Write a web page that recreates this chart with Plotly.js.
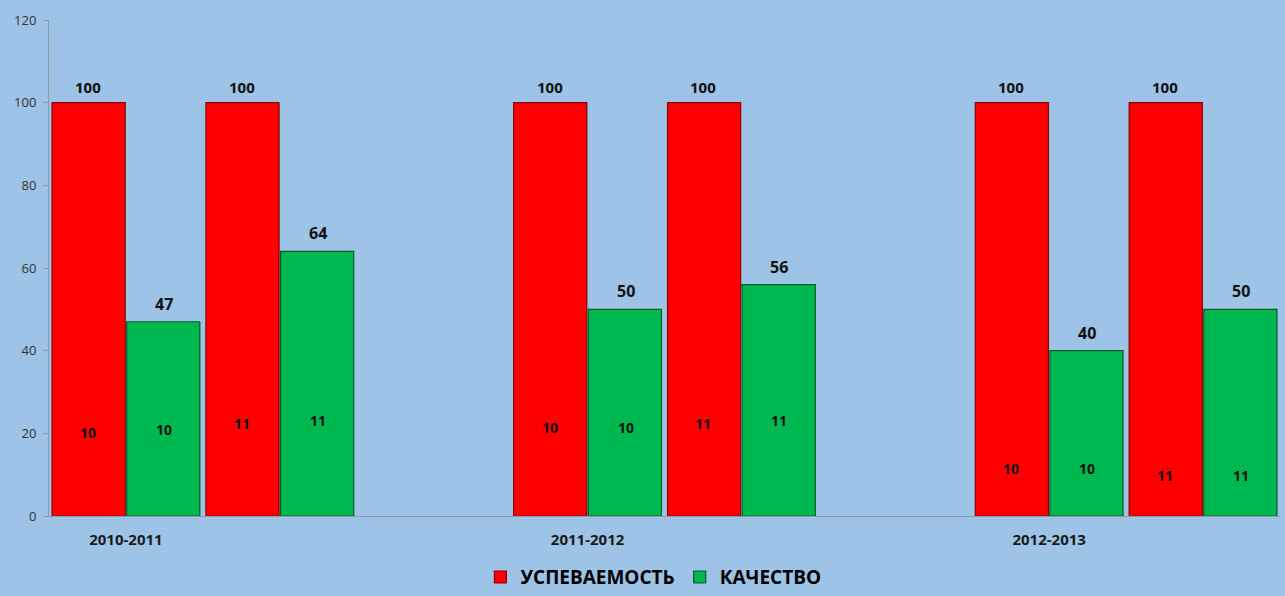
<!DOCTYPE html>
<html>
<head>
<meta charset="utf-8">
<script src="https://cdn.plot.ly/plotly-3.0.1.min.js"></script>
<style>html,body{margin:0;padding:0;background:#9DC3E6;}#chart{width:1285px;height:596px;}</style>
</head>
<body>
<div id="chart"></div>
<script>
// Category slots: class 10 and class 11 per school year, with empty slots between years
const categories = ["2010-2011 10","2010-2011 11","gap1","2011-2012 10","2011-2012 11","gap2","2012-2013 10","2012-2013 11"];
const yearTickVals = ["2010-2011 10","2011-2012 10","2012-2013 10"];
const yearTickText = ["2010-2011","2011-2012","2012-2013"];
const classNames = ["10","11",null,"10","11",null,"10","11"];
// Series values
const uspevaemost = [100,100,null,100,100,null,100,100];
const kachestvo   = [47,64,null,50,56,null,40,50];
// Heights (in axis units) at which the class labels sit inside the bars
const redClassLabelY   = [20.1,22.5,null,21.3,22.5,null,11.6,9.9];
const greenClassLabelY = [21.0,23.0,null,21.3,23.2,null,11.6,9.9];
const seriesNames = ["УСПЕВАЕМОСТЬ","КАЧЕСТВО"];

const FONT = "Open Sans, Noto Sans, DejaVu Sans, sans-serif";

const traces = [
  {type:"bar", name:seriesNames[0], x:categories, y:uspevaemost,
   marker:{color:"#FF0000", line:{color:"#8B0000", width:1.2}}, hoverinfo:"skip"},
  {type:"bar", name:seriesNames[1], x:categories, y:kachestvo,
   marker:{color:"#00B850", line:{color:"#0B5A2A", width:1.2}}, hoverinfo:"skip"}
];

const annotations = [];
categories.forEach((c,i)=>{
  if (uspevaemost[i]!=null){
    annotations.push({x:c, y:uspevaemost[i], xref:"x", yref:"y", text:String(uspevaemost[i]),
      showarrow:false, xshift:-38, yshift:16, font:{family:FONT, size:15, color:"#111", weight:"bold"}});
    annotations.push({x:c, y:redClassLabelY[i], xref:"x", yref:"y", text:classNames[i],
      showarrow:false, xshift:-38, font:{family:FONT, size:14, color:"#111", weight:"bold"}});
  }
  if (kachestvo[i]!=null){
    annotations.push({x:c, y:kachestvo[i], xref:"x", yref:"y", text:String(kachestvo[i]),
      showarrow:false, xshift:38, yshift:18, font:{family:FONT, size:16, color:"#111", weight:"bold"}});
    annotations.push({x:c, y:greenClassLabelY[i], xref:"x", yref:"y", text:classNames[i],
      showarrow:false, xshift:38, font:{family:FONT, size:14, color:"#111", weight:"bold"}});
  }
});

const layout = {
  width:1285, height:596,
  paper_bgcolor:"#9DC3E6", plot_bgcolor:"#9DC3E6",
  margin:{l:49, r:5, t:20, b:80, autoexpand:false},
  barmode:"group", bargap:0.03, bargroupgap:0.02,
  showlegend:true,
  legend:{orientation:"h", x:0.491, xanchor:"center", xref:"paper", y:-0.085, yanchor:"top",
    font:{family:FONT, size:19, color:"#000", weight:"bold"}, bgcolor:"rgba(0,0,0,0)",
    itemwidth:30, traceorder:"normal"},
  xaxis:{type:"category", categoryorder:"array", categoryarray:categories,
    tickmode:"array", tickvals:yearTickVals, ticktext:yearTickText,
    showline:true, linecolor:"#8E9AA6", linewidth:1, ticks:"", showgrid:false, zeroline:false,
    tickfont:{family:FONT, size:15, color:"#1a1a1a", weight:"bold"}, ticklabelstandoff:10,
    range:[-0.5,7.5]},
  yaxis:{range:[0,120], tickmode:"linear", tick0:0, dtick:20,
    showline:true, linecolor:"#8E9AA6", linewidth:1, ticks:"outside", ticklen:5, tickcolor:"#8E9AA6",
    showgrid:false, zeroline:false, ticklabelstandoff:4,
    tickfont:{family:FONT, size:13, color:"#333"}},
  annotations:annotations,
  font:{family:FONT}
};

Plotly.newPlot("chart", traces, layout, {displayModeBar:false, staticPlot:true});
</script>
</body>
</html>
